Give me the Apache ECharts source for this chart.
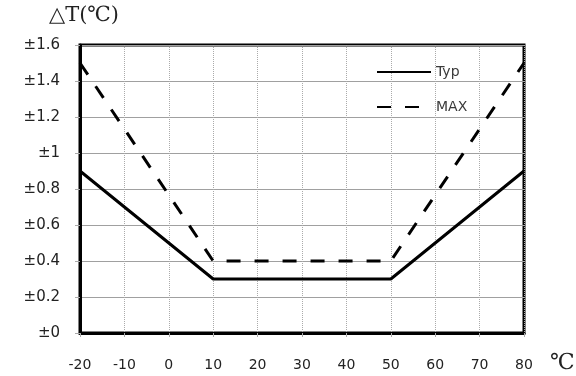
<!DOCTYPE html>
<html>
<head>
<meta charset="utf-8">
<script src="https://cdn.jsdelivr.net/npm/echarts@6/dist/echarts.min.js"></script>
<style>
    html, body { margin: 0; padding: 0; background: #fff; }
    #chart { width: 576px; height: 376px; }
</style>
</head>
<body>
<div id="chart"></div>
<script>
    // 温度 (℃) 与误差 ΔT
    var temps = [-20, 10, 50, 80];
    var typVals = [0.9, 0.3, 0.3, 0.9];
    var maxVals = [1.5, 0.4, 0.4, 1.5];
    var seriesNames = ['Typ', 'MAX'];

    function pairs(xs, ys) {
        return xs.map(function (x, i) { return [x, ys[i]]; });
    }

    var myChart = echarts.init(document.getElementById('chart'));
    myChart.setOption({
        animation: false,
        grid: {
            left: 80,
            right: 52,
            top: 45,
            bottom: 43,
            show: true,
            borderColor: '#000',
            borderWidth: 3
        },
        legend: {
            orient: 'vertical',
            left: 376,
            top: 65,
            padding: 0,
            itemWidth: 54,
            itemHeight: 12,
            itemGap: 21,
            data: seriesNames,
            itemStyle: { opacity: 0 },
            textStyle: { color: '#3a3a3a', fontSize: 14, fontFamily: 'DejaVu Sans' }
        },
        graphic: [
            {
                type: 'text', left: 49, top: 5,
                style: { text: '△T(℃)', fontSize: 21, fontFamily: 'DejaVu Serif', fill: '#222' }
            },
            {
                type: 'text', left: 550, top: 352,
                style: { text: '℃', fontSize: 22, fontFamily: 'DejaVu Serif', fill: '#222' }
            }
        ],
        xAxis: {
            type: 'value',
            min: -20,
            max: 80,
            interval: 10,
            axisLine: { show: true, onZero: false, lineStyle: { color: '#000', width: 3 } },
            axisTick: { show: true, length: 4, lineStyle: { color: '#aaa' } },
            axisLabel: { margin: 25, color: '#222', fontSize: 14, fontFamily: 'DejaVu Sans' },
            splitLine: { show: true, lineStyle: { color: '#aaa', type: 'dotted', width: 1 } }
        },
        yAxis: {
            type: 'value',
            min: 0,
            max: 1.6,
            interval: 0.2,
            axisLine: { show: true, onZero: false, lineStyle: { color: '#000', width: 3 } },
            axisTick: { show: true, length: 5, lineStyle: { color: '#aaa' } },
            axisLabel: {
                margin: 20,
                color: '#222',
                fontSize: 15,
                fontFamily: 'DejaVu Sans',
                formatter: function (v) { return '±' + (Math.round(v * 10) / 10); }
            },
            splitLine: { show: true, lineStyle: { color: '#a0a0a0', width: 1 } }
        },
        series: [
            {
                name: 'Typ',
                type: 'line',
                data: pairs(temps, typVals),
                symbol: 'none',
                lineStyle: { color: '#000', width: 3 },
                itemStyle: { color: '#000' }
            },
            {
                name: 'MAX',
                type: 'line',
                data: pairs(temps, maxVals),
                symbol: 'none',
                lineStyle: { color: '#000', width: 3, type: [14, 14] },
                itemStyle: { color: '#000' }
            }
        ]
    });
</script>
</body>
</html>
